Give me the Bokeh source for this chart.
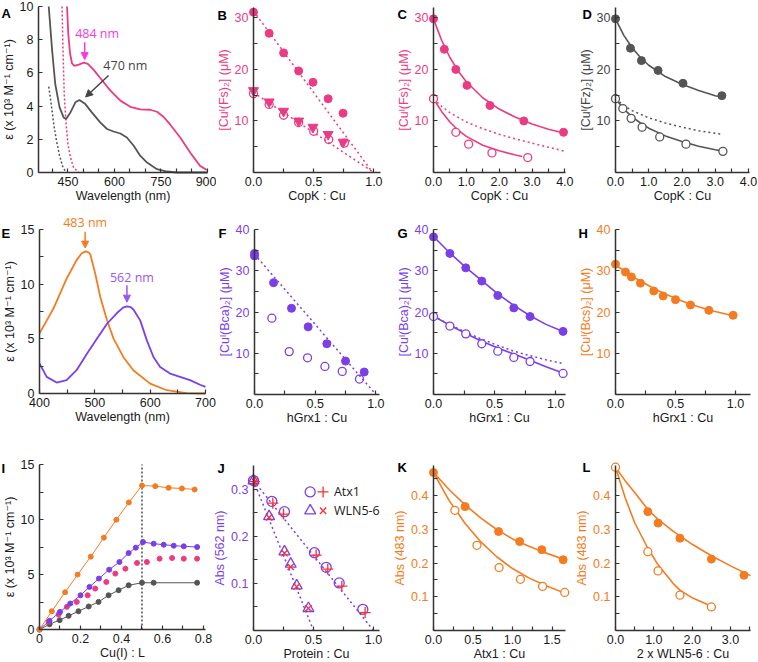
from bokeh.plotting import figure
from bokeh.layouts import column, row
from bokeh.models import Range1d, FixedTicker, Label, Arrow, NormalHead
from bokeh.embed import file_html
from bokeh.resources import INLINE

PINK = "#ec3b83"
MAGENTA = "#f23ddc"
GREY = "#555555"
ORANGE = "#f47c20"
PURPLE = "#7b3fe8"
RED = "#ff2d2d"
AXIS = "#333333"
TXT = "#1a1a1a"
FONT = "Liberation Sans, DejaVu Sans, sans-serif"
AFONT = "Open Sans"
FS = "12.5px"

# ---------------- data ----------------
# A
A_grey_nm = [388, 399, 409, 423, 436, 444, 458, 474, 487, 506, 527, 554, 576, 597, 619, 640, 662, 683, 705, 737, 769, 801, 900]
A_grey_eps = [10.0, 7.34, 5.33, 3.92, 3.32, 3.22, 3.62, 4.23, 4.37, 4.12, 3.62, 3.02, 2.62, 2.47, 2.35, 2.11, 1.61, 1.01, 0.60, 0.20, 0.06, 0.0, 0.0]
A_pink_nm = [447, 451, 457, 463, 471, 485, 501, 514, 533, 554, 587, 619, 651, 683, 715, 737, 758, 780, 812, 844, 876, 898]
A_pink_eps = [10.0, 8.35, 7.14, 6.58, 6.42, 6.50, 6.62, 6.54, 6.18, 5.69, 4.93, 4.33, 3.96, 3.80, 3.78, 3.66, 3.36, 2.88, 2.11, 1.21, 0.40, 0.15]
A_pinkdot_nm = [431, 434, 438, 444, 450, 458, 468, 485]
A_pinkdot_eps = [10.0, 7.34, 4.73, 2.92, 1.71, 0.91, 0.30, 0.0]
A_greydot_nm = [388, 396, 404, 413, 423, 434, 445]
A_greydot_eps = [5.17, 4.12, 2.92, 1.91, 1.01, 0.30, 0.0]
A_xticks = [450, 600, 750, 900]
A_xlabels = ["450", "600", "750", "900"]
A_yticks = [0, 2, 4, 6, 8, 10]
A_ylabels = ["0", "2", "4", "6", "8", "10"]

# B
B_x_fill = [0, 0.13, 0.25, 0.375, 0.494, 0.62, 0.744]
B_y_fill = [31.1, 27.0, 23.2, 19.7, 17.5, 14.3, 11.5]
B_x_tri = [0, 0.13, 0.25, 0.375, 0.494, 0.62, 0.744]
B_y_tri = [15.9, 13.7, 11.9, 10.0, 8.8, 7.4, 5.9]
B_x_open = [0, 0.13, 0.25, 0.375, 0.5, 0.625, 0.755]
B_y_open = [15.3, 13.2, 11.1, 9.7, 8.0, 6.4, 5.7]
B_line1_x = [0, 0.99]
B_line1_y = [31.3, 0]
B_line2_x = [0, 1.0]
B_line2_y = [15.5, 0]

# C
C_x_fill = [0, 0.33, 0.68, 1.02, 1.72, 2.75, 3.96]
C_y_fill = [29.8, 23.9, 20.0, 16.9, 13.0, 10.0, 7.8]
C_x_open = [0, 0.68, 1.07, 1.78, 2.87]
C_y_open = [14.3, 7.8, 5.5, 3.8, 2.9]
C_fit_fill_x = [0, 0.25, 0.5, 0.75, 1.0, 1.5, 2.0, 2.5, 3.0, 3.5, 4.0]
C_fit_fill_y = [29.8, 25.6, 22.3, 19.7, 17.6, 14.5, 12.3, 10.7, 9.4, 8.4, 7.6]
C_fit_open_x = [0, 0.25, 0.5, 0.75, 1.0, 1.5, 2.0, 2.5, 2.7]
C_fit_open_y = [14.3, 11.8, 9.8, 8.2, 7.0, 5.3, 4.2, 3.4, 3.1]
C_dot_x = [0, 0.25, 0.5, 1.0, 1.5, 2.0, 2.5, 3.0, 3.5, 4.0]
C_dot_y = [14.3, 12.8, 11.6, 9.8, 8.5, 7.4, 6.5, 5.7, 4.9, 4.1]

# D
D_x_fill = [0, 0.45, 0.78, 1.28, 2.03, 3.2]
D_y_fill = [29.8, 24.1, 21.7, 19.8, 17.3, 14.9]
D_x_open = [0, 0.22, 0.47, 0.8, 1.33, 2.12, 3.23]
D_y_open = [14.3, 12.4, 10.5, 8.8, 6.9, 5.5, 4.1]
D_fit_fill_x = [0, 0.25, 0.5, 0.75, 1.0, 1.5, 2.0, 2.5, 3.0, 3.2]
D_fit_fill_y = [29.8, 26.6, 24.2, 22.3, 20.8, 18.6, 17.1, 15.9, 14.9, 14.6]
D_fit_open_x = [0, 0.25, 0.5, 0.75, 1.0, 1.5, 2.0, 2.5, 3.0, 3.23]
D_fit_open_y = [14.3, 12.3, 10.8, 9.6, 8.6, 7.1, 6.0, 5.1, 4.4, 4.1]
D_dot_x = [0, 0.25, 0.5, 1.0, 1.5, 2.0, 2.5, 3.0, 3.2]
D_dot_y = [14.3, 13.0, 12.0, 10.6, 9.6, 8.8, 8.1, 7.6, 7.4]

# E
E_orange_nm = [400, 425, 449, 467, 476, 483, 489, 492, 501, 510, 522, 534, 552, 570, 600, 630, 666, 700]
E_orange_eps = [5.5, 7.75, 10.5, 12.2, 12.8, 13.0, 12.9, 12.7, 10.9, 8.8, 6.7, 5.0, 3.3, 2.1, 0.9, 0.3, 0.03, 0.0]
E_purple_nm = [400, 413, 431, 449, 467, 486, 504, 522, 540, 551, 558, 565, 570, 582, 594, 606, 618, 636, 654, 672, 690, 700]
E_purple_eps = [2.74, 1.52, 1.0, 1.22, 2.13, 3.65, 5.02, 6.38, 7.36, 7.85, 7.96, 7.9, 7.66, 6.69, 4.86, 3.34, 2.43, 1.82, 1.52, 1.22, 0.8, 0.6]

# F
F_x_fill = [0, 0, 0.157, 0.305, 0.442, 0.596, 0.75, 0.904]
F_y_fill = [34.2, 33.6, 27.1, 20.9, 16.4, 12.3, 8.1, 5.45]
F_x_open = [0.143, 0.286, 0.437, 0.58, 0.723, 0.865]
F_y_open = [18.5, 10.4, 8.9, 6.8, 5.6, 3.75]
F_dot_x = [0, 1.0]
F_dot_y = [34.0, 0]

# G
G_x = [0, 0.134, 0.264, 0.395, 0.526, 0.657, 0.79, 1.06]
G_y_fill = [38.2, 34.2, 30.7, 27.5, 24.0, 21.0, 18.9, 15.3]
G_y_open = [18.9, 16.6, 14.7, 12.3, 10.5, 9.0, 8.0, 5.1]
G_fit_x = [0, 0.134, 0.264, 0.395, 0.526, 0.657, 0.79, 0.92, 1.06]
G_fit_fill_y = [38.3, 34.3, 30.8, 27.6, 24.4, 21.6, 19.1, 17.0, 15.3]
G_fit_open_y = [19.0, 16.8, 14.8, 12.9, 11.3, 9.8, 8.3, 6.7, 5.2]
G_dot_y = [19.0, 16.9, 15.1, 13.4, 11.9, 10.5, 9.4, 8.4, 7.5]

# H
H_x = [0, 0.083, 0.133, 0.208, 0.319, 0.397, 0.5, 0.625, 0.778, 0.98]
H_y = [31.6, 29.7, 28.5, 27.0, 25.1, 23.9, 23.0, 21.7, 20.4, 19.2]
H_fit_y = [31.4, 29.8, 28.8, 27.5, 25.7, 24.6, 23.3, 21.9, 20.5, 19.1]

# I
I_orange_x = [0, 0.06, 0.125, 0.186, 0.25, 0.314, 0.375, 0.436, 0.5, 0.565, 0.63, 0.695, 0.757]
I_orange_y = [0, 1.66, 3.39, 4.99, 6.62, 8.35, 9.98, 11.55, 13.09, 13.03, 12.88, 12.82, 12.73]
I_purple_x = [0, 0.049, 0.1, 0.15, 0.2, 0.244, 0.29, 0.34, 0.39, 0.435, 0.47, 0.505, 0.557, 0.606, 0.655, 0.704, 0.769]
I_purple_y = [0, 0.79, 1.6, 2.36, 3.11, 3.87, 4.63, 5.44, 6.14, 6.95, 7.44, 7.95, 7.8, 7.71, 7.62, 7.56, 7.5]
I_pink_x = [0.044, 0.093, 0.134, 0.182, 0.235, 0.272, 0.326, 0.37, 0.419, 0.476, 0.524, 0.586, 0.647, 0.704, 0.769]
I_pink_y = [0.7, 1.36, 2.06, 2.51, 3.11, 3.72, 4.32, 5.08, 5.53, 6.05, 6.14, 6.44, 6.5, 6.44, 6.44]
I_grey_x = [0, 0.049, 0.098, 0.142, 0.19, 0.24, 0.288, 0.337, 0.386, 0.435, 0.5, 0.557, 0.769]
I_grey_y = [0, 0.48, 0.85, 1.24, 1.66, 2.09, 2.51, 3.11, 3.57, 4.02, 4.25, 4.25, 4.25]
I_vline_x = [0.5, 0.5]
I_vline_y = [0, 15]

# J
J_circ_x = [0, 0.153, 0.258, 0.508, 0.606, 0.714, 0.911]
J_circ_y = [0.318, 0.274, 0.252, 0.165, 0.134, 0.101, 0.045]
J_plus_x = [0.008, 0.161, 0.25, 0.522, 0.619, 0.736, 0.93]
J_plus_y = [0.316, 0.27, 0.247, 0.16, 0.13, 0.094, 0.038]
J_tri_x = [0, 0.13, 0.258, 0.31, 0.36, 0.458]
J_tri_y = [0.318, 0.242, 0.167, 0.141, 0.095, 0.047]
J_x_x = [0.01, 0.13, 0.258, 0.31, 0.36, 0.458]
J_x_y = [0.316, 0.24, 0.164, 0.135, 0.093, 0.047]
J_line1_x = [0, 1.0]
J_line1_y = [0.318, 0]
J_line2_x = [0, 0.5]
J_line2_y = [0.318, 0]
J_legend_labels = ["Atx1", "WLN5-6"]

# K
K_x_fill = [0, 0.40, 0.823, 1.09, 1.37, 1.64]
K_y_fill = [0.469, 0.368, 0.294, 0.264, 0.24, 0.21]
K_x_open = [0.27, 0.55, 0.83, 1.1, 1.38, 1.66]
K_y_open = [0.357, 0.253, 0.187, 0.152, 0.131, 0.113]
K_fit_x = [0, 0.2, 0.4, 0.6, 0.8, 1.0, 1.2, 1.4, 1.66]
K_fit_fill_y = [0.469, 0.418, 0.373, 0.334, 0.300, 0.272, 0.251, 0.232, 0.210]
K_fit_open_y = [0.469, 0.385, 0.318, 0.263, 0.219, 0.184, 0.157, 0.135, 0.111]

# L
L_x_fill = [0.843, 1.11, 1.68, 2.5, 3.35]
L_y_fill = [0.353, 0.319, 0.274, 0.212, 0.164]
L_x_open = [0, 0.843, 1.11, 1.68, 2.5]
L_y_open = [0.485, 0.234, 0.177, 0.105, 0.07]
L_fit_fill_x = [0, 0.25, 0.5, 0.84, 1.11, 1.5, 2.0, 2.5, 3.0, 3.52]
L_fit_fill_y = [0.485, 0.445, 0.41, 0.36, 0.33, 0.295, 0.256, 0.222, 0.192, 0.163]
L_fit_open_x = [0, 0.25, 0.5, 0.84, 1.11, 1.5, 1.68, 2.0, 2.5]
L_fit_open_y = [0.485, 0.395, 0.32, 0.245, 0.195, 0.14, 0.12, 0.097, 0.072]

# ---------------- layout (pixels) ----------------
FIG_COLS = [
    [(0, 216), (216, 390), (390, 575), (575, 757)],
    [(0, 216), (216, 390), (390, 575), (575, 757)],
    [(0, 212), (212, 390), (390, 575), (575, 757)],
]
FIG_ROWS = [(0, 212), (212, 436), (436, 661)]
# axis boxes: left, right, top, bottom (page pixels)
BOX = {
    "A": (38, 207, 6, 172), "B": (253, 380, 7, 172), "C": (433, 565, 7, 172), "D": (615, 749, 7, 172),
    "E": (39, 205, 229, 393), "F": (254, 379, 229, 394), "G": (433, 565, 229, 394), "H": (615, 750, 229, 394),
    "I": (39, 205, 464, 629), "J": (253, 379, 465, 630), "K": (433, 565, 465, 630), "L": (615, 750, 465, 630),
}
LETTER_OFF = {
    "A": (-37, -7), "B": (-36, -8), "C": (-36, -7), "D": (-33, -7),
    "E": (-38, -4), "F": (-36, -4), "G": (-36, -4), "H": (-37, -4),
    "I": (-38, -4), "J": (-36, -3), "K": (-36, -2), "L": (-33, -2),
}


def style_axis(ax, tcol, standoff, lab_standoff):
    ax.axis_line_color = AXIS
    ax.axis_line_width = 1.5
    ax.major_tick_line_color = AXIS
    ax.minor_tick_line_color = AXIS
    ax.major_tick_line_width = 1.2
    ax.minor_tick_line_width = 1.2
    ax.major_tick_in = 4
    ax.major_tick_out = 0
    ax.minor_tick_in = 4
    ax.minor_tick_out = 0
    ax.major_label_standoff = standoff
    ax.axis_label_standoff = lab_standoff
    ax.major_label_text_font = FONT
    ax.major_label_text_font_size = FS
    ax.major_label_text_color = tcol
    ax.axis_label_text_font = FONT
    ax.axis_label_text_font_size = FS
    ax.axis_label_text_font_style = "normal"
    ax.axis_label_text_color = tcol


def panel(letter, col, rw, xlim, ylim, xt, xl, xm, yt, yl, ym, xlabel, ylabel, tcol):
    X0, X1 = FIG_COLS[rw][col]
    Y0, Y1 = FIG_ROWS[rw]
    L, R, T, B = BOX[letter]
    sx = (xlim[1] - xlim[0]) / (R - L)
    sy = (ylim[1] - ylim[0]) / (B - T)
    p = figure(width=X1 - X0, height=Y1 - Y0, output_backend="svg", toolbar_location=None,
               title=None,
               x_range=Range1d(xlim[0] - (L - X0) * sx, xlim[1] + (X1 - R) * sx),
               y_range=Range1d(ylim[0] - (Y1 - B) * sy, ylim[1] + (T - Y0) * sy))
    p.min_border_left = 0
    p.min_border_right = 0
    p.min_border_top = 0
    p.min_border_bottom = 0
    p.xgrid.visible = False
    p.ygrid.visible = False
    p.outline_line_color = None
    xa = p.xaxis[0]
    ya = p.yaxis[0]
    xa.fixed_location = ylim[0]
    ya.fixed_location = xlim[0]
    xa.bounds = (xlim[0], xlim[1])
    ya.bounds = (ylim[0], ylim[1])
    xa.ticker = FixedTicker(ticks=xt, minor_ticks=xm)
    ya.ticker = FixedTicker(ticks=yt, minor_ticks=ym)
    xa.major_label_overrides = {t: s for t, s in zip(xt, xl)}
    ya.major_label_overrides = {t: s for t, s in zip(yt, yl)}
    style_axis(xa, TXT, 4, 0)
    style_axis(ya, tcol, 5, 1)
    xa.axis_label = xlabel
    ya.axis_label = ylabel
    dx, dy = LETTER_OFF[letter]
    p.add_layout(Label(x=xlim[0], y=ylim[1], x_offset=dx, y_offset=dy, text=letter,
                       text_font=FONT, text_font_style="bold", text_font_size="13px",
                       text_color="black", text_baseline="alphabetic", text_align="left"))
    return p


def ann(p, x, y, text, color):
    p.add_layout(Label(x=x, y=y, text=text, text_font=AFONT, text_font_size="12.5px",
                       text_color=color, text_align="center", text_baseline="middle"))


def arrow(p, xs, ys, xe, ye, color):
    p.add_layout(Arrow(end=NormalHead(size=7, fill_color=color, line_color=color),
                       x_start=xs, y_start=ys, x_end=xe, y_end=ye, line_color=color, line_width=1.5))


EPS = "\u03b5 (x 10\u00b3 M\u207b\u00b9 cm\u207b\u00b9)"
CU = "[Cu\u1d35"

# A
pA = panel("A", 0, 0, (355, 900), (0, 10), A_xticks, A_xlabels, [400, 500, 550, 650, 700, 800, 850],
           A_yticks, A_ylabels, [], "Wavelength (nm)", EPS, TXT)
pA.line(A_greydot_nm, A_greydot_eps, color=GREY, line_width=1.5, line_dash="2 2")
pA.line(A_pinkdot_nm, A_pinkdot_eps, color=PINK, line_width=1.5, line_dash="2 2")
pA.line(A_grey_nm, A_grey_eps, color=GREY, line_width=1.8)
pA.line(A_pink_nm, A_pink_eps, color=PINK, line_width=1.8)
ann(pA, 544, 8.35, "484 nm", MAGENTA)
arrow(pA, 504, 7.85, 504, 6.8, MAGENTA)
ann(pA, 635, 6.45, "470 nm", "#444444")
arrow(pA, 581, 5.84, 507, 4.55, "#444444")

# B
pB = panel("B", 1, 0, (0, 1.055), (0, 32), [0, 0.5, 1.0], ["0.0", "0.5", "1.0"], [0.25, 0.75],
           [10, 20, 30], ["10", "20", "30"], [5, 15, 25], "CopK : Cu",
           CU + "(Fs)\u2082] (\u03bcM)", PINK)
pB.line(B_line1_x, B_line1_y, color=PINK, line_width=1.5, line_dash="2 3")
pB.line(B_line2_x, B_line2_y, color=PINK, line_width=1.5, line_dash="2 3")
pB.scatter(B_x_open, B_y_open, marker="circle", size=8, fill_color=None, line_color=PINK, line_width=1.3)
pB.scatter(B_x_tri, B_y_tri, marker="inverted_triangle", size=10, fill_color=PINK, line_color=PINK)
pB.scatter(B_x_fill, B_y_fill, marker="circle", size=8, fill_color=PINK, line_color=PINK)

# C
pC = panel("C", 2, 0, (0, 4.02), (0, 32), [0, 1, 2, 3, 4], ["0.0", "1.0", "2.0", "3.0", "4.0"], [0.5, 1.5, 2.5, 3.5],
           [10, 20, 30], ["10", "20", "30"], [5, 15, 25], "CopK : Cu",
           CU + "(Fs)\u2082] (\u03bcM)", PINK)
pC.line(C_dot_x, C_dot_y, color=PINK, line_width=1.5, line_dash="2 3")
pC.line(C_fit_fill_x, C_fit_fill_y, color=PINK, line_width=1.6)
pC.line(C_fit_open_x, C_fit_open_y, color=PINK, line_width=1.6)
pC.scatter(C_x_fill, C_y_fill, marker="circle", size=8, fill_color=PINK, line_color=PINK)
pC.scatter(C_x_open, C_y_open, marker="circle", size=8, fill_color="white", line_color=PINK, line_width=1.3)

# D
pD = panel("D", 3, 0, (0, 4.03), (0, 32), [0, 1, 2, 3, 4], ["0.0", "1.0", "2.0", "3.0", "4.0"], [0.5, 1.5, 2.5, 3.5],
           [10, 20, 30], ["10", "20", "30"], [5, 15, 25], "CopK : Cu",
           CU + "(Fz)\u2082] (\u03bcM)", "#444444")
pD.line(D_dot_x, D_dot_y, color=GREY, line_width=1.5, line_dash="2 3")
pD.line(D_fit_fill_x, D_fit_fill_y, color=GREY, line_width=1.6)
pD.line(D_fit_open_x, D_fit_open_y, color=GREY, line_width=1.6)
pD.scatter(D_x_fill, D_y_fill, marker="circle", size=8, fill_color=GREY, line_color=GREY)
pD.scatter(D_x_open, D_y_open, marker="circle", size=8, fill_color="white", line_color=GREY, line_width=1.3)

# E
pE = panel("E", 0, 1, (400, 700), (0, 15), [400, 500, 600, 700], ["400", "500", "600", "700"], [450, 550, 650],
           [0, 5, 10, 15], ["0", "5", "10", "15"], [2.5, 7.5, 12.5], "Wavelength (nm)", EPS, TXT)
pE.line(E_orange_nm, E_orange_eps, color=ORANGE, line_width=1.8)
pE.line(E_purple_nm, E_purple_eps, color=PURPLE, line_width=1.8)
ann(pE, 482.5, 15.6, "483 nm", ORANGE)
arrow(pE, 482.5, 14.8, 482.5, 13.3, ORANGE)
ann(pE, 567, 10.65, "562 nm", "#9a55f5")
arrow(pE, 558, 9.9, 558, 8.35, "#9a55f5")

# F
pF = panel("F", 1, 1, (0, 1.03), (0, 40), [0, 0.5, 1.0], ["0.0", "0.5", "1.0"], [0.25, 0.75],
           [10, 20, 30, 40], ["10", "20", "30", "40"], [5, 15, 25, 35], "hGrx1 : Cu",
           CU + "(Bca)\u2082] (\u03bcM)", PURPLE)
pF.line(F_dot_x, F_dot_y, color=PURPLE, line_width=1.5, line_dash="2 3")
pF.scatter(F_x_open, F_y_open, marker="circle", size=8, fill_color=None, line_color=PURPLE, line_width=1.3)
pF.scatter(F_x_fill, F_y_fill, marker="circle", size=8, fill_color=PURPLE, line_color=PURPLE)

# G
pG = panel("G", 2, 1, (0, 1.08), (0, 40), [0, 0.5, 1.0], ["0.0", "0.5", "1.0"], [0.25, 0.75],
           [10, 20, 30, 40], ["10", "20", "30", "40"], [5, 15, 25, 35], "hGrx1 : Cu",
           CU + "(Bca)\u2082] (\u03bcM)", PURPLE)
pG.line(G_fit_x, G_dot_y, color=PURPLE, line_width=1.5, line_dash="2 3")
pG.line(G_fit_x, G_fit_fill_y, color=PURPLE, line_width=1.6)
pG.line(G_fit_x, G_fit_open_y, color=PURPLE, line_width=1.6)
pG.scatter(G_x, G_y_fill, marker="circle", size=8, fill_color=PURPLE, line_color=PURPLE)
pG.scatter(G_x, G_y_open, marker="circle", size=8, fill_color="white", line_color=PURPLE, line_width=1.3)

# H
pH = panel("H", 3, 1, (0, 1.125), (0, 40), [0, 0.5, 1.0], ["0.0", "0.5", "1.0"], [0.25, 0.75],
           [10, 20, 30, 40], ["10", "20", "30", "40"], [5, 15, 25, 35], "hGrx1 : Cu",
           CU + "(Bcs)\u2082] (\u03bcM)", ORANGE)
pH.line(H_x, H_fit_y, color=ORANGE, line_width=1.6)
pH.scatter(H_x, H_y, marker="circle", size=8, fill_color=ORANGE, line_color=ORANGE)

# I
pI = panel("I", 0, 2, (0, 0.81), (0, 15), [0, 0.2, 0.4, 0.6, 0.8], ["0", "0.2", "0.4", "0.6", "0.8"], [0.1, 0.3, 0.5, 0.7],
           [0, 5, 10, 15], ["0", "5", "10", "15"], [2.5, 7.5, 12.5], "Cu(I) : L", EPS, TXT)
pI.line(I_vline_x, I_vline_y, color="#333333", line_width=1.3, line_dash="2 2")
pI.line(I_grey_x, I_grey_y, color=GREY, line_width=1)
pI.scatter(I_grey_x, I_grey_y, marker="circle", size=5, fill_color=GREY, line_color=GREY)
pI.scatter(I_pink_x, I_pink_y, marker="circle", size=5, fill_color=PINK, line_color=PINK)
pI.line(I_purple_x, I_purple_y, color=PURPLE, line_width=1)
pI.scatter(I_purple_x, I_purple_y, marker="circle", size=5, fill_color=PURPLE, line_color=PURPLE)
pI.line(I_orange_x, I_orange_y, color=ORANGE, line_width=1)
pI.scatter(I_orange_x, I_orange_y, marker="circle", size=5, fill_color=ORANGE, line_color=ORANGE)

# J
pJ = panel("J", 1, 2, (0, 1.05), (0, 0.35), [0, 0.5, 1.0], ["0.0", "0.5", "1.0"], [0.25, 0.75],
           [0.1, 0.2, 0.3], ["0.1", "0.2", "0.3"], [0.05, 0.15, 0.25], "Protein : Cu",
           "Abs (562 nm)", PURPLE)
pJ.line(J_line1_x, J_line1_y, color=PURPLE, line_width=1.5, line_dash="2 3")
pJ.line(J_line2_x, J_line2_y, color=PURPLE, line_width=1.5, line_dash="2 3")
pJ.scatter(J_circ_x, J_circ_y, marker="circle", size=10, fill_color=None, line_color=PURPLE, line_width=1.3)
pJ.scatter(J_tri_x, J_tri_y, marker="triangle", size=11, fill_color=None, line_color=PURPLE, line_width=1.3)
pJ.scatter(J_plus_x, J_plus_y, marker="cross", size=11, line_color=RED, line_width=1.3)
pJ.scatter(J_x_x, J_x_y, marker="x", size=9, line_color=RED, line_width=1.3)
# legend
pJ.scatter([0.4725], [0.294], marker="circle", size=10, fill_color=None, line_color=PURPLE, line_width=1.3)
pJ.scatter([0.58], [0.294], marker="cross", size=11, line_color=RED, line_width=1.3)
pJ.scatter([0.4725], [0.254], marker="triangle", size=11, fill_color=None, line_color=PURPLE, line_width=1.3)
pJ.scatter([0.58], [0.254], marker="x", size=9, line_color=RED, line_width=1.3)
for lab, yy in zip(J_legend_labels, [0.294, 0.254]):
    pJ.add_layout(Label(x=0.67, y=yy, text=lab, text_font=AFONT, text_font_size="12.5px",
                        text_color=TXT, text_baseline="middle", text_align="left"))

# K
pK = panel("K", 2, 2, (0, 1.67), (0, 0.49), [0, 0.5, 1.0, 1.5], ["0.0", "0.5", "1.0", "1.5"], [0.25, 0.75, 1.25],
           [0.1, 0.2, 0.3, 0.4], ["0.1", "0.2", "0.3", "0.4"], [0.05, 0.15, 0.25, 0.35, 0.45], "Atx1 : Cu",
           "Abs (483 nm)", ORANGE)
pK.line(K_fit_x, K_fit_fill_y, color=ORANGE, line_width=1.6)
pK.line(K_fit_x, K_fit_open_y, color=ORANGE, line_width=1.6)
pK.scatter(K_x_fill, K_y_fill, marker="circle", size=8, fill_color=ORANGE, line_color=ORANGE)
pK.scatter(K_x_open, K_y_open, marker="circle", size=8, fill_color="white", line_color=ORANGE, line_width=1.3)

# L
pL = panel("L", 3, 2, (0, 3.52), (0, 0.49), [0, 1, 2, 3], ["0.0", "1.0", "2.0", "3.0"], [0.5, 1.5, 2.5, 3.5],
           [0.1, 0.2, 0.3, 0.4], ["0.1", "0.2", "0.3", "0.4"], [0.05, 0.15, 0.25, 0.35, 0.45], "2 x WLN5-6 : Cu",
           "Abs (483 nm)", ORANGE)
pL.line(L_fit_fill_x, L_fit_fill_y, color=ORANGE, line_width=1.6)
pL.line(L_fit_open_x, L_fit_open_y, color=ORANGE, line_width=1.6)
pL.scatter(L_x_fill, L_y_fill, marker="circle", size=8, fill_color=ORANGE, line_color=ORANGE)
pL.scatter(L_x_open, L_y_open, marker="circle", size=8, fill_color="white", line_color=ORANGE, line_width=1.3)

layout = column(row(pA, pB, pC, pD), row(pE, pF, pG, pH), row(pI, pJ, pK, pL))
open("out.html", "w").write(file_html(layout, INLINE))
